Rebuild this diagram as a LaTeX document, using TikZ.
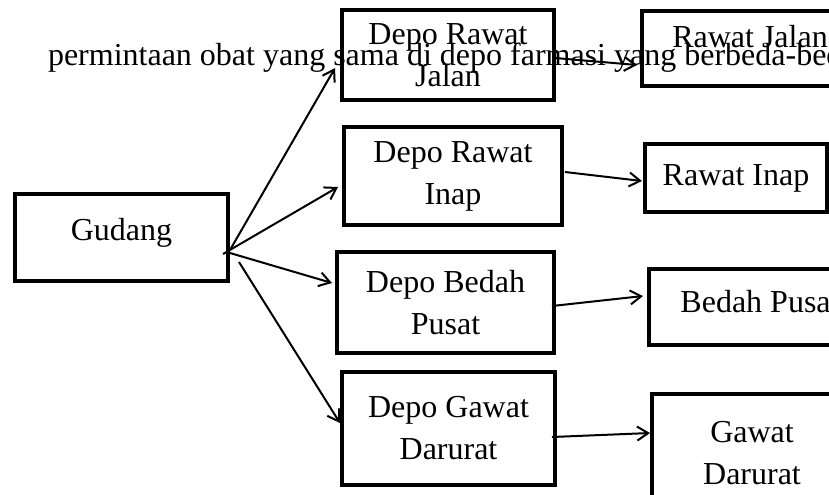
\documentclass[tikz,border=0pt]{standalone}
\usepackage{fontspec}
\setmainfont{Liberation Serif}
\usetikzlibrary{arrows.meta,calc}
\tikzset{
  boxnode/.style={draw, line width=2.2pt, outer sep=0pt, inner sep=0pt, align=center,
    font=\fontsize{16}{21}\selectfont},
  arr/.style={line width=1pt, -{Straight Barb[length=5.5pt,width=7pt,line width=1pt]}},
  txt/.style={font=\fontsize{16}{21}\selectfont, inner sep=0pt, outer sep=0pt}
}
\begin{document}
\begin{tikzpicture}[x=0.5pt,y=-0.5pt]
\useasboundingbox (0,0) rectangle (829,494);
\clip (0,0) rectangle (829,494);
% left column
\node[boxnode, minimum width=106.5pt, minimum height=43.5pt, text depth=8.5pt] (gud) at (121.5,237.5) {Gudang};
% middle column
\node[boxnode, minimum width=106pt, minimum height=45pt] (drj) at (448,55) {Depo Rawat\\Jalan};
\node[boxnode, minimum width=109pt, minimum height=49pt] (dri) at (453,176) {Depo Rawat\\Inap};
\node[boxnode, minimum width=108.5pt, minimum height=50.5pt] (dbp) at (445.5,302.5) {Depo Bedah\\Pusat};
\node[boxnode, minimum width=106.5pt, minimum height=56.5pt] (dgd) at (448.5,428.5) {Depo Gawat\\Darurat};
% right column
\node[boxnode, minimum width=108pt, minimum height=37.5pt, text depth=12pt] (rj) at (750,48.5) {Rawat Jalan};
\node[boxnode, minimum width=91pt, minimum height=34pt] (ri) at (736,178) {Rawat Inap};
\node[boxnode, minimum width=111pt, minimum height=38pt, text depth=6pt] (bp) at (760,307) {Bedah Pusat};
\node[boxnode, minimum width=100pt, minimum height=59pt] (gd) at (752,453) {Gawat\\Darurat};
% connectors from Gudang
\draw[arr] ($(gud.east)+(2,12.5)$) -- ($(drj.west)+(-7,13)$);
\draw[arr] ($(gud.east)+(-5,16.5)$) -- ($(dri.west)+(-6,11)$);
\draw[arr] ($(gud.east)+(2,15.5)$) -- ($(dbp.west)+(-5,-19.5)$);
\draw[arr] ($(gud.east)+(11,24.5)$) -- ($(dgd.west)+(-2,-5.5)$);
% connectors to units
\draw[arr] ($(drj.east)+(1,3)$) -- ($(rj.west)+(-5,16.5)$);
\draw[arr] ($(dri.east)+(3,-4)$) -- ($(ri.west)+(-3,3)$);
\draw[arr] ($(dbp.east)+(-2,3.5)$) -- ($(bp.west)+(-6,-11)$);
\draw[arr] ($(dgd.east)+(-3,8.5)$) -- ($(gd.west)+(-2,-20)$);
% overlaid caption text
\node[txt, anchor=base west] (cap) at (48,65) {permintaan obat yang sama di depo farmasi yang berbeda-beda};
\end{tikzpicture}
\end{document}
